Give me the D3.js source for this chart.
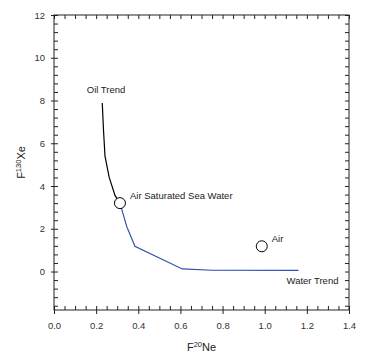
<!DOCTYPE html>
<meta charset="utf-8">
<style>
    * {
        margin: 0;
        padding: 0;
    }

    body {
        background: #fff;
    }

    svg {
        display: block;
        font-family: "Liberation Sans", Arial, sans-serif;
    }
</style>

<body>
    <svg width="379" height="361"></svg>
    <script src="https://cdn.jsdelivr.net/npm/d3@7"></script>
    <script>
        // values
        const oilX = [0.229, 0.235, 0.242, 0.262, 0.29, 0.313];
        const oilY = [7.88, 6.6, 5.4, 4.4, 3.55, 3.2];
        const waterX = [0.313, 0.345, 0.384, 0.609, 0.75, 1.16];
        const waterY = [3.2, 2.11, 1.18, 0.12, 0.06, 0.05];
        const pointNames = ["Air Saturated Sea Water", "Air"];
        const pointX = [0.313, 0.986];
        const pointY = [3.2, 1.18];
        const xTicks = [0, 0.2, 0.4, 0.6, 0.8, 1.0, 1.2, 1.4];
        const yTicks = [0, 2, 4, 6, 8, 10, 12];

        const margin = { left: 54, right: 30, top: 15, bottom: 51 };
        const width = 379 - margin.left - margin.right;
        const height = 361 - margin.top - margin.bottom;

        const svg = d3.select("svg");
        const g = svg.append("g").attr("transform", `translate(${margin.left},${margin.top})`);

        const x = d3.scaleLinear().domain([0, 1.4]).range([0, width]);
        const y = d3.scaleLinear().domain([-1.8, 12]).range([height, 0]);

        const xMinor = d3.range(0, 1.4001, 0.05).filter(v => Math.abs(v / 0.2 - Math.round(v / 0.2)) > 1e-6);
        const yMinor = d3.range(-1.6, 12.001, 0.4).filter(v => Math.abs(v / 2 - Math.round(v / 2)) > 1e-6);

        function styleAxis(sel) {
            sel.select(".domain").remove();
            sel.selectAll("line").attr("stroke", "#222").attr("stroke-width", 1);
            sel.selectAll("text").attr("fill", "#333").style("font-size", "9.5px");
        }

        // bottom axis: majors cross the line, minors point in
        g.append("g").attr("transform", `translate(0,${height})`)
            .call(d3.axisBottom(x).tickValues(xMinor).tickSize(-4).tickFormat(""))
            .call(styleAxis);
        const bx = g.append("g").attr("transform", `translate(0,${height})`)
            .call(d3.axisBottom(x).tickValues(xTicks).tickSize(4).tickPadding(8).tickFormat(d3.format(".1f")))
            .call(styleAxis);
        bx.selectAll(".tick line").attr("y1", -4);

        // left axis
        g.append("g")
            .call(d3.axisLeft(y).tickValues(yMinor).tickSize(-4).tickFormat(""))
            .call(styleAxis);
        const ly = g.append("g")
            .call(d3.axisLeft(y).tickValues(yTicks).tickSize(3).tickPadding(6))
            .call(styleAxis);
        ly.selectAll(".tick line").attr("x1", 4);

        // top and right: ticks inward only
        g.append("g")
            .call(d3.axisTop(x).tickValues(xMinor.concat(xTicks)).tickSize(-4).tickFormat(""))
            .call(styleAxis);
        g.append("g").attr("transform", `translate(${width},0)`)
            .call(d3.axisRight(y).tickValues(yMinor.concat(yTicks)).tickSize(-4).tickFormat(""))
            .call(styleAxis);

        // frame
        g.append("rect")
            .attr("width", width).attr("height", height)
            .attr("fill", "none").attr("stroke", "#222").attr("stroke-width", 1);

        const line = d3.line().x(d => x(d[0])).y(d => y(d[1]));

        g.append("path")
            .datum(oilX.map((v, i) => [v, oilY[i]]))
            .attr("d", line)
            .attr("fill", "none").attr("stroke", "#000").attr("stroke-width", 1.2);

        g.append("path")
            .datum(waterX.map((v, i) => [v, waterY[i]]))
            .attr("d", line)
            .attr("fill", "none").attr("stroke", "#2f4fb5").attr("stroke-width", 1.2);

        g.selectAll("circle.pt")
            .data(pointNames)
            .join("circle")
            .attr("class", "pt")
            .attr("cx", (d, i) => x(pointX[i]))
            .attr("cy", (d, i) => y(pointY[i]))
            .attr("r", 5.5)
            .attr("fill", "#fff").attr("stroke", "#000").attr("stroke-width", 1);

        g.selectAll("text.pt")
            .data(pointNames)
            .join("text")
            .attr("class", "pt")
            .attr("x", (d, i) => x(pointX[i]) + 10)
            .attr("y", (d, i) => y(pointY[i]) - 4)
            .style("font-size", "9.5px")
            .attr("fill", "#222")
            .text(d => d);

        g.append("text")
            .attr("x", x(0.247)).attr("y", y(8.35))
            .attr("text-anchor", "middle")
            .style("font-size", "9.5px").attr("fill", "#222")
            .text("Oil Trend");

        g.append("text")
            .attr("x", x(1.35)).attr("y", y(-0.58))
            .attr("text-anchor", "end")
            .style("font-size", "9.5px").attr("fill", "#222")
            .text("Water Trend");

        // axis titles
        const xt = svg.append("text")
            .attr("x", margin.left + width / 2)
            .attr("y", 351)
            .attr("text-anchor", "middle")
            .style("font-size", "11px").attr("fill", "#222");
        xt.append("tspan").text("F");
        xt.append("tspan").attr("dy", -4).style("font-size", "7.5px").text("20");
        xt.append("tspan").attr("dy", 4).text("Ne");

        const yt = svg.append("text")
            .attr("transform", `translate(25,${margin.top + height / 2}) rotate(-90)`)
            .attr("text-anchor", "middle")
            .style("font-size", "11px").attr("fill", "#222");
        yt.append("tspan").text("F");
        yt.append("tspan").attr("dy", -4).style("font-size", "7.5px").text("130");
        yt.append("tspan").attr("dy", 4).text("Xe");
    </script>
</body>

</html>
